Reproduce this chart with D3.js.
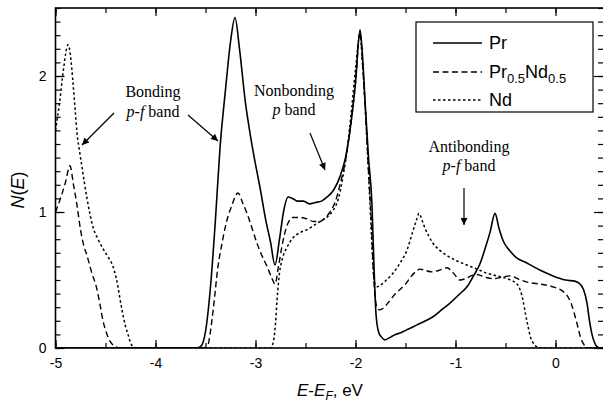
<!DOCTYPE html>
<html><head><meta charset="utf-8">
<script src="https://cdn.jsdelivr.net/npm/d3@7"></script>
<style>
html,body{margin:0;padding:0;background:#fff;}
svg{display:block;}
</style>
</head><body>
<svg id="chart" width="603" height="405"></svg>
<script>
// ---- data ----
const seriesNames = ["Pr", "Pr0.5Nd0.5", "Nd"];
const xTickValues = [-5, -4, -3, -2, -1, 0];
const yTickValues = [0, 1, 2];

const prE = [-5.0,-3.6,-3.55,-3.5,-3.45,-3.4,-3.355,-3.3,-3.25,-3.205,-3.16,-3.1,-3.055,-3.0,-2.955,-2.9,-2.85,-2.805,-2.76,-2.72,-2.675,-2.63,-2.58,-2.52,-2.46,-2.4,-2.34,-2.285,-2.22,-2.155,-2.1,-2.055,-2.0,-1.955,-1.93,-1.905,-1.87,-1.835,-1.815,-1.795,-1.77,-1.74,-1.705,-1.65,-1.6,-1.555,-1.47,-1.385,-1.3,-1.225,-1.14,-1.055,-0.97,-0.885,-0.82,-0.755,-0.7,-0.655,-0.605,-0.565,-0.525,-0.45,-0.385,-0.3,-0.225,-0.12,-0.025,0.1,0.2,0.245,0.28,0.315,0.34,0.365,0.39,0.415,0.45,0.48];
const prN = [0,0,0.01,0.12,0.45,0.95,1.47,1.9,2.25,2.43,2.2,1.8,1.58,1.35,1.18,0.95,0.78,0.61,0.8,1.0,1.11,1.1,1.08,1.08,1.06,1.07,1.08,1.11,1.16,1.26,1.4,1.6,1.95,2.34,2.15,1.82,1.4,1.05,0.6,0.25,0.12,0.08,0.06,0.08,0.1,0.11,0.14,0.17,0.2,0.23,0.28,0.33,0.39,0.45,0.53,0.62,0.74,0.85,0.99,0.88,0.79,0.71,0.66,0.63,0.6,0.56,0.53,0.5,0.49,0.47,0.43,0.33,0.2,0.1,0.04,0.01,0,0];

const mixE = [-5.0,-4.95,-4.9,-4.855,-4.82,-4.785,-4.75,-4.72,-4.685,-4.64,-4.585,-4.55,-4.525,-4.49,-4.455,-4.4,-4.35,-3.5,-3.48,-3.455,-3.42,-3.375,-3.34,-3.305,-3.27,-3.235,-3.2,-3.175,-3.13,-3.085,-3.03,-2.985,-2.93,-2.885,-2.84,-2.805,-2.77,-2.735,-2.685,-2.625,-2.55,-2.485,-2.42,-2.355,-2.3,-2.255,-2.2,-2.155,-2.1,-2.055,-2.0,-1.955,-1.93,-1.905,-1.87,-1.84,-1.82,-1.8,-1.78,-1.755,-1.7,-1.655,-1.6,-1.555,-1.5,-1.45,-1.4,-1.355,-1.3,-1.24,-1.17,-1.085,-1.02,-0.955,-0.9,-0.845,-0.785,-0.7,-0.62,-0.54,-0.455,-0.35,-0.255,-0.15,-0.025,0.1,0.16,0.215,0.25,0.28,0.32,0.48];
const mixN = [1.0,1.1,1.22,1.34,1.2,1.05,0.87,0.76,0.68,0.56,0.43,0.3,0.2,0.11,0.05,0.01,0,0,0.01,0.1,0.3,0.6,0.75,0.88,0.98,1.05,1.12,1.14,1.07,0.99,0.87,0.77,0.67,0.6,0.52,0.47,0.6,0.75,0.9,0.96,0.96,0.95,0.93,0.93,0.96,1.0,1.08,1.2,1.38,1.6,1.95,2.32,2.1,1.8,1.3,0.9,0.55,0.35,0.29,0.28,0.31,0.35,0.4,0.43,0.47,0.52,0.56,0.58,0.57,0.56,0.57,0.59,0.55,0.5,0.51,0.53,0.54,0.52,0.51,0.52,0.53,0.5,0.48,0.47,0.45,0.4,0.32,0.18,0.08,0.03,0,0];

const ndE = [-5.0,-4.96,-4.92,-4.875,-4.85,-4.825,-4.8,-4.785,-4.76,-4.735,-4.685,-4.625,-4.575,-4.525,-4.475,-4.425,-4.395,-4.375,-4.355,-4.335,-4.3,-4.275,-4.25,-4.225,-4.18,-2.85,-2.82,-2.8,-2.785,-2.76,-2.73,-2.685,-2.625,-2.55,-2.485,-2.42,-2.355,-2.29,-2.225,-2.17,-2.125,-2.08,-2.04,-2.0,-1.955,-1.93,-1.905,-1.87,-1.845,-1.825,-1.805,-1.78,-1.755,-1.69,-1.625,-1.55,-1.485,-1.43,-1.395,-1.365,-1.335,-1.305,-1.265,-1.225,-1.16,-1.085,-0.985,-0.885,-0.785,-0.685,-0.585,-0.485,-0.385,-0.35,-0.325,-0.3,-0.275,-0.25,-0.225,-0.19,-0.15,0.48];
const ndN = [1.6,1.8,2.05,2.23,2.15,1.95,1.72,1.58,1.45,1.33,1.1,0.89,0.8,0.73,0.67,0.6,0.52,0.45,0.36,0.28,0.16,0.1,0.04,0.01,0,0,0.05,0.18,0.35,0.55,0.66,0.74,0.81,0.85,0.87,0.9,0.93,0.96,1.01,1.1,1.26,1.48,1.75,2.05,2.3,2.1,1.8,1.3,0.9,0.6,0.47,0.45,0.46,0.5,0.55,0.63,0.72,0.85,0.93,0.99,0.94,0.88,0.82,0.77,0.72,0.68,0.64,0.61,0.58,0.55,0.53,0.51,0.47,0.42,0.35,0.25,0.16,0.08,0.04,0.01,0,0];

// ---- layout ----
const svg = d3.select("#chart");
const L = 55.5, R = 604, T = 8, B = 348;
const x = d3.scaleLinear().domain([-5, 0.485]).range([L, R]);
const y = d3.scaleLinear().domain([0, 2.5]).range([B, T]);

svg.append("rect").attr("width",603).attr("height",405).attr("fill","#fff");

const defs = svg.append("defs");
defs.append("clipPath").attr("id","clip").append("rect")
  .attr("x",L).attr("y",T).attr("width",R-L).attr("height",B-T);
defs.append("marker").attr("id","arr").attr("viewBox","0 0 10 10")
  .attr("refX",10).attr("refY",5).attr("markerWidth",9).attr("markerHeight",7)
  .attr("markerUnits","userSpaceOnUse").attr("orient","auto")
  .append("path").attr("d","M0,0 L10,5 L0,10 z").attr("fill","#000");

const line = d3.line().x(d=>x(d[0])).y(d=>y(d[1])).curve(d3.curveMonotoneX);
const styles = [
  {dash:null, w:1.6},
  {dash:"6,3.5", w:1.4},
  {dash:"2.5,2.5", w:1.5}
];
const series = [d3.zip(prE, prN), d3.zip(mixE, mixN), d3.zip(ndE, ndN)];
const g = svg.append("g").attr("clip-path","url(#clip)");
series.forEach((s,i)=>{
  g.append("path").datum(s).attr("d",line).attr("fill","none")
   .attr("stroke","#000").attr("stroke-width",styles[i].w)
   .attr("stroke-dasharray",styles[i].dash);
});

// ---- axes (ticks inward on all sides) ----
const fmt = d => String(d);
const xMinor = d3.range(-5, 0.5, 0.5);
const yMinor = d3.range(0, 2.51, 0.1);
function styleAxis(sel){
  sel.select(".domain").remove();
  sel.selectAll("line").attr("stroke","#000").attr("stroke-width",1.2);
  sel.selectAll("text").attr("font-family","Liberation Sans, Arial, sans-serif").attr("font-size",14).attr("fill","#000");
}
svg.append("g").attr("transform",`translate(0,${B})`)
  .call(d3.axisBottom(x).tickValues(xMinor).tickSize(-5).tickFormat("")).call(styleAxis);
svg.append("g").attr("transform",`translate(0,${B})`)
  .call(d3.axisBottom(x).tickValues(xTickValues).tickSize(-8).tickPadding(10).tickFormat(fmt)).call(styleAxis);
svg.append("g").attr("transform",`translate(0,${T})`)
  .call(d3.axisTop(x).tickValues(xMinor).tickSize(-5).tickFormat("")).call(styleAxis);
svg.append("g").attr("transform",`translate(0,${T})`)
  .call(d3.axisTop(x).tickValues(xTickValues).tickSize(-8).tickFormat("")).call(styleAxis);
svg.append("g").attr("transform",`translate(${L},0)`)
  .call(d3.axisLeft(y).tickValues(yMinor).tickSize(-5).tickFormat("")).call(styleAxis);
svg.append("g").attr("transform",`translate(${L},0)`)
  .call(d3.axisLeft(y).tickValues(yTickValues).tickSize(-9).tickPadding(9).tickFormat(fmt)).call(styleAxis);
svg.append("g").attr("transform",`translate(${R-1},0)`)
  .call(d3.axisRight(y).tickValues(yMinor).tickSize(-5).tickFormat("")).call(styleAxis);
svg.append("g").attr("transform",`translate(${R-1},0)`)
  .call(d3.axisRight(y).tickValues(yTickValues).tickSize(-9).tickFormat("")).call(styleAxis);

svg.append("rect").attr("x",L).attr("y",T).attr("width",R-L).attr("height",B-T)
  .attr("fill","none").attr("stroke","#000").attr("stroke-width",1.6);

// ---- axis titles ----
const sans = "Liberation Sans, Arial, sans-serif";
const xt = svg.append("text").attr("x",330).attr("y",396).attr("text-anchor","middle")
  .attr("font-family",sans).attr("font-size",17);
xt.append("tspan").attr("font-style","italic").text("E");
xt.append("tspan").text("-");
xt.append("tspan").attr("font-style","italic").text("E");
xt.append("tspan").attr("font-style","italic").attr("font-size",12).attr("dy",4).text("F");
xt.append("tspan").attr("dy",-4).text(", eV");

const yt = svg.append("text").attr("transform","translate(24,190) rotate(-90)")
  .attr("text-anchor","middle").attr("font-family",sans).attr("font-size",18);
yt.append("tspan").attr("font-style","italic").text("N");
yt.append("tspan").text("(");
yt.append("tspan").attr("font-style","italic").text("E");
yt.append("tspan").text(")");

// ---- legend ----
svg.append("rect").attr("x",416).attr("y",22).attr("width",177).attr("height",90)
  .attr("fill","#fff").attr("stroke","#000").attr("stroke-width",1.2);
const legY = [43, 72, 100];
seriesNames.forEach((n,i)=>{
  svg.append("line").attr("x1",433).attr("x2",482).attr("y1",legY[i]).attr("y2",legY[i])
    .attr("stroke","#000").attr("stroke-width",styles[i].w).attr("stroke-dasharray",styles[i].dash);
  const t = svg.append("text").attr("x",489).attr("y",legY[i]+6)
    .attr("font-family",sans).attr("font-size",18);
  if (n === "Pr0.5Nd0.5") {
    t.append("tspan").text("Pr");
    t.append("tspan").attr("font-size",13).attr("dy",5).text("0.5");
    t.append("tspan").attr("dy",-5).text("Nd");
    t.append("tspan").attr("font-size",13).attr("dy",5).text("0.5");
  } else {
    t.text(n);
  }
});

// ---- annotations ----
const serif = "Liberation Serif, Times New Roman, serif";
function label(cx, y1, y2, l1, italicPart, rest){
  svg.append("text").attr("x",cx).attr("y",y1).attr("text-anchor","middle")
    .attr("font-family",serif).attr("font-size",16).text(l1);
  const t = svg.append("text").attr("x",cx).attr("y",y2).attr("text-anchor","middle")
    .attr("font-family",serif).attr("font-size",16);
  t.append("tspan").attr("font-style","italic").text(italicPart);
  t.append("tspan").text(rest);
}
label(153, 97, 117, "Bonding", "p-f", " band");
label(294, 96, 115, "Nonbonding", "p", " band");
label(469, 152, 171, "Antibonding", "p-f", " band");

function arrow(x1,y1,x2,y2){
  svg.append("line").attr("x1",x1).attr("y1",y1).attr("x2",x2).attr("y2",y2)
    .attr("stroke","#000").attr("stroke-width",1.2).attr("marker-end","url(#arr)");
}
arrow(114,113,82,145);
arrow(188,115,218,141);
arrow(310,133,325,170);
arrow(464,188,464,225);
</script>
</body></html>
